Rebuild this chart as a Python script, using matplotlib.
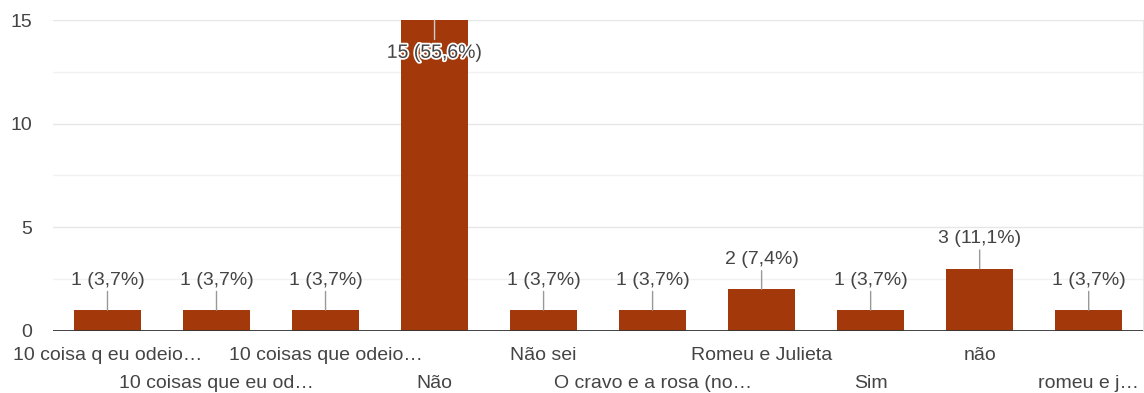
import matplotlib.pyplot as plt
import matplotlib.patheffects as pe
from matplotlib.transforms import blended_transform_factory

# data
categories = ['10 coisa q eu odeio…', '10 coisas que eu od…', '10 coisas que odeio…', 'Não',
              'Não sei', 'O cravo e a rosa (no…', 'Romeu e Julieta', 'Sim', 'não', 'romeu e j…']
counts = [1, 1, 1, 15, 1, 1, 2, 1, 3, 1]
value_labels = ['1 (3,7%)', '1 (3,7%)', '1 (3,7%)', '15 (55,6%)', '1 (3,7%)',
                '1 (3,7%)', '2 (7,4%)', '1 (3,7%)', '3 (11,1%)', '1 (3,7%)']
yticks = [0, 5, 10, 15]

plt.rcParams['font.family'] = ['Liberation Sans', 'DejaVu Sans']

bar_color = '#a3390b'
text_color = '#444444'
fs = 14

fig = plt.figure(figsize=(11.44, 3.93), dpi=100)
ax = fig.add_axes([0.0463, 0.158, 0.953, 0.791])

x = list(range(len(counts)))
ax.bar(x, counts, width=0.62, color=bar_color, zorder=3)

ax.set_xlim(-0.5, len(counts) - 0.5)
ax.set_ylim(0, 15)

# gridlines
for v in [2.5, 7.5, 12.5]:
    ax.axhline(v, color='#f1f1f1', lw=1, zorder=1)
for v in [5, 10, 15]:
    ax.axhline(v, color='#e6e6e6', lw=1, zorder=1)
ax.axhline(0, color='#333333', lw=1.3, zorder=4)

ax.set_yticks(yticks)
ax.set_yticklabels([str(t) for t in yticks], fontsize=fs, color=text_color)
ax.tick_params(axis='y', length=0, pad=15)
ax.set_xticks([])

for s in ['top', 'left', 'bottom']:
    ax.spines[s].set_visible(False)
ax.spines['right'].set_color('#e6e6e6')

# value labels with leader lines
for i, (c, lab) in enumerate(zip(counts, value_labels)):
    if c >= 15:
        ax.annotate('', xy=(i, c), xytext=(0, -14), textcoords='offset points',
                    arrowprops=dict(arrowstyle='-', color='#cccccc', lw=1,
                                    shrinkA=0, shrinkB=0), zorder=5)
        ax.annotate(lab, xy=(i, c), xytext=(0, -24), textcoords='offset points',
                    ha='center', va='center', fontsize=fs, color=text_color, zorder=6,
                    path_effects=[pe.withStroke(linewidth=2.5, foreground='white')])
    else:
        ax.annotate('', xy=(i, c), xytext=(0, 13.5), textcoords='offset points',
                    arrowprops=dict(arrowstyle='-', color='#999999', lw=1,
                                    shrinkA=0, shrinkB=0), zorder=5)
        ax.annotate(lab, xy=(i, c), xytext=(0, 21.5), textcoords='offset points',
                    ha='center', va='center', fontsize=fs, color=text_color, zorder=6)

# category labels in two staggered rows
trans = blended_transform_factory(ax.transData, ax.transAxes)
for i, cat in enumerate(categories):
    yrow = -0.078 if i % 2 == 0 else -0.168
    ax.text(i, yrow, cat, transform=trans, ha='center', va='center',
            fontsize=fs, color=text_color)

plt.savefig('out.png', dpi=100)
plt.close()
